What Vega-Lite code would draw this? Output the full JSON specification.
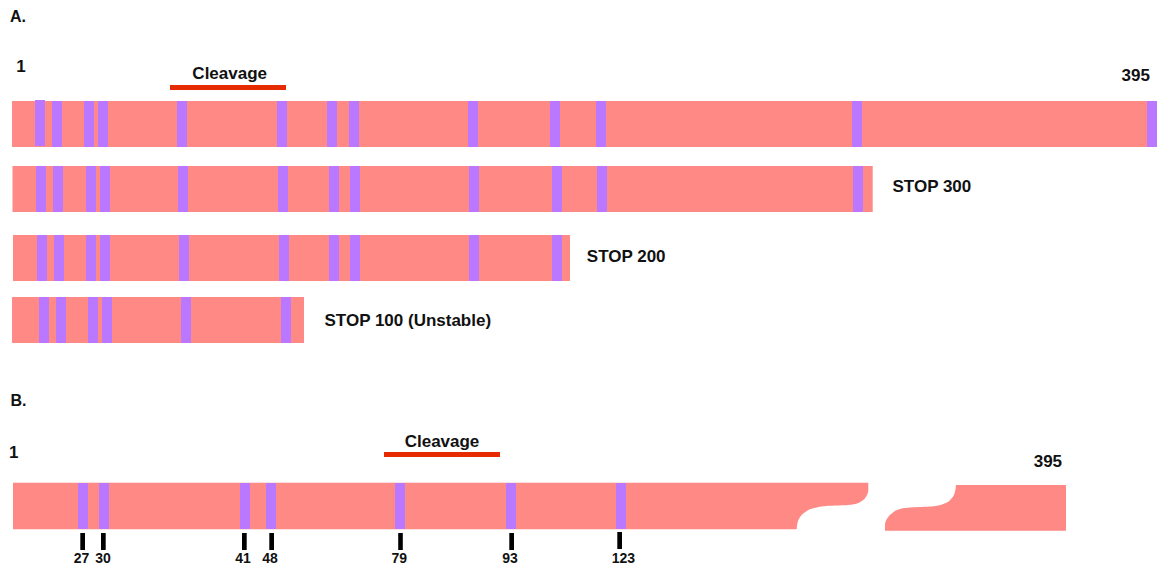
{
  "$schema": "https://vega.github.io/schema/vega-lite/v6.json",
  "width": 1160,
  "height": 567,
  "autosize": {"type": "fit", "contains": "padding"},
  "padding": 0,
  "background": "#ffffff",
  "config": {"view": {"stroke": null}, "font": "Liberation Sans"},
  "datasets": {
    "segments": [
      {"row": "A1", "kind": "bar", "x1": 12, "x2": 1157, "y1": 101, "y2": 147},
      {"row": "A2", "kind": "bar", "x1": 12.5, "x2": 872.7, "y1": 166, "y2": 212},
      {"row": "A3", "kind": "bar", "x1": 13, "x2": 570, "y1": 235, "y2": 281},
      {"row": "A4", "kind": "bar", "x1": 12, "x2": 304, "y1": 297, "y2": 343},

      {"row": "A1", "kind": "band", "x1": 35, "x2": 45, "y1": 100, "y2": 146},
      {"row": "A1", "kind": "band", "x1": 52, "x2": 62, "y1": 101, "y2": 147},
      {"row": "A1", "kind": "band", "x1": 84, "x2": 94, "y1": 101, "y2": 147},
      {"row": "A1", "kind": "band", "x1": 98, "x2": 108, "y1": 101, "y2": 147},
      {"row": "A1", "kind": "band", "x1": 177, "x2": 187, "y1": 101, "y2": 147},
      {"row": "A1", "kind": "band", "x1": 277, "x2": 287, "y1": 101, "y2": 147},
      {"row": "A1", "kind": "band", "x1": 327, "x2": 337, "y1": 101, "y2": 147},
      {"row": "A1", "kind": "band", "x1": 349, "x2": 359, "y1": 101, "y2": 147},
      {"row": "A1", "kind": "band", "x1": 468, "x2": 478, "y1": 101, "y2": 147},
      {"row": "A1", "kind": "band", "x1": 550, "x2": 560, "y1": 101, "y2": 147},
      {"row": "A1", "kind": "band", "x1": 596, "x2": 606, "y1": 101, "y2": 147},
      {"row": "A1", "kind": "band", "x1": 852, "x2": 862, "y1": 101, "y2": 147},
      {"row": "A1", "kind": "band", "x1": 1147, "x2": 1157, "y1": 101, "y2": 147},

      {"row": "A2", "kind": "band", "x1": 36, "x2": 46, "y1": 166, "y2": 212},
      {"row": "A2", "kind": "band", "x1": 53, "x2": 63, "y1": 166, "y2": 212},
      {"row": "A2", "kind": "band", "x1": 86, "x2": 96, "y1": 166, "y2": 212},
      {"row": "A2", "kind": "band", "x1": 100, "x2": 110, "y1": 166, "y2": 212},
      {"row": "A2", "kind": "band", "x1": 178, "x2": 188, "y1": 166, "y2": 212},
      {"row": "A2", "kind": "band", "x1": 278, "x2": 288, "y1": 166, "y2": 212},
      {"row": "A2", "kind": "band", "x1": 329, "x2": 339, "y1": 166, "y2": 212},
      {"row": "A2", "kind": "band", "x1": 350, "x2": 360, "y1": 166, "y2": 212},
      {"row": "A2", "kind": "band", "x1": 469, "x2": 479, "y1": 166, "y2": 212},
      {"row": "A2", "kind": "band", "x1": 552, "x2": 562, "y1": 166, "y2": 212},
      {"row": "A2", "kind": "band", "x1": 597, "x2": 607, "y1": 166, "y2": 212},
      {"row": "A2", "kind": "band", "x1": 853, "x2": 863, "y1": 166, "y2": 212},

      {"row": "A3", "kind": "band", "x1": 37, "x2": 47, "y1": 235, "y2": 281},
      {"row": "A3", "kind": "band", "x1": 54, "x2": 64, "y1": 235, "y2": 281},
      {"row": "A3", "kind": "band", "x1": 86, "x2": 96, "y1": 235, "y2": 281},
      {"row": "A3", "kind": "band", "x1": 100, "x2": 110, "y1": 235, "y2": 281},
      {"row": "A3", "kind": "band", "x1": 179, "x2": 189, "y1": 235, "y2": 281},
      {"row": "A3", "kind": "band", "x1": 279, "x2": 289, "y1": 235, "y2": 281},
      {"row": "A3", "kind": "band", "x1": 329, "x2": 339, "y1": 235, "y2": 281},
      {"row": "A3", "kind": "band", "x1": 350, "x2": 360, "y1": 235, "y2": 281},
      {"row": "A3", "kind": "band", "x1": 469, "x2": 479, "y1": 235, "y2": 281},
      {"row": "A3", "kind": "band", "x1": 552, "x2": 562, "y1": 235, "y2": 281},

      {"row": "A4", "kind": "band", "x1": 39, "x2": 49, "y1": 297, "y2": 343},
      {"row": "A4", "kind": "band", "x1": 56, "x2": 66, "y1": 297, "y2": 343},
      {"row": "A4", "kind": "band", "x1": 88, "x2": 98, "y1": 297, "y2": 343},
      {"row": "A4", "kind": "band", "x1": 102, "x2": 112, "y1": 297, "y2": 343},
      {"row": "A4", "kind": "band", "x1": 181, "x2": 191, "y1": 297, "y2": 343},
      {"row": "A4", "kind": "band", "x1": 281, "x2": 291, "y1": 297, "y2": 343},

      {"row": "B", "kind": "band", "x1": 78, "x2": 88, "y1": 483, "y2": 529},
      {"row": "B", "kind": "band", "x1": 99, "x2": 109, "y1": 483, "y2": 529},
      {"row": "B", "kind": "band", "x1": 240, "x2": 250, "y1": 483, "y2": 529},
      {"row": "B", "kind": "band", "x1": 266, "x2": 276, "y1": 483, "y2": 529},
      {"row": "B", "kind": "band", "x1": 395, "x2": 405, "y1": 483, "y2": 529},
      {"row": "B", "kind": "band", "x1": 506, "x2": 516, "y1": 483, "y2": 529},
      {"row": "B", "kind": "band", "x1": 616, "x2": 626, "y1": 483, "y2": 529},

      {"row": "B", "kind": "tick", "x1": 80.3, "x2": 85, "y1": 533, "y2": 550},
      {"row": "B", "kind": "tick", "x1": 101, "x2": 105.7, "y1": 533, "y2": 550},
      {"row": "B", "kind": "tick", "x1": 242, "x2": 246.7, "y1": 533, "y2": 550},
      {"row": "B", "kind": "tick", "x1": 269.3, "x2": 274, "y1": 533, "y2": 550},
      {"row": "B", "kind": "tick", "x1": 398.2, "x2": 402.8, "y1": 533, "y2": 550},
      {"row": "B", "kind": "tick", "x1": 509.3, "x2": 514, "y1": 533, "y2": 550},
      {"row": "B", "kind": "tick", "x1": 617.3, "x2": 622, "y1": 532, "y2": 549},

      {"row": "A", "kind": "cleavage", "x1": 170, "x2": 286, "y1": 85, "y2": 90},
      {"row": "B", "kind": "cleavage", "x1": 384, "x2": 500, "y1": 452, "y2": 457}
    ],
    "pieces": [
      {"piece": "left", "y": 482.7, "xa": 13, "xb": 868.3},
      {"piece": "left", "y": 490, "xa": 13, "xb": 868.3},
      {"piece": "left", "y": 496.7, "xa": 13, "xb": 866},
      {"piece": "left", "y": 501, "xa": 13, "xb": 861.7},
      {"piece": "left", "y": 504, "xa": 13, "xb": 855},
      {"piece": "left", "y": 505.3, "xa": 13, "xb": 843.3},
      {"piece": "left", "y": 506, "xa": 13, "xb": 826.7},
      {"piece": "left", "y": 508.3, "xa": 13, "xb": 813.3},
      {"piece": "left", "y": 512.3, "xa": 13, "xb": 805},
      {"piece": "left", "y": 518.3, "xa": 13, "xb": 799.3},
      {"piece": "left", "y": 524, "xa": 13, "xb": 797.3},
      {"piece": "left", "y": 529.3, "xa": 13, "xb": 796.7},
      {"piece": "right", "y": 485, "xa": 956, "xb": 1066},
      {"piece": "right", "y": 491.7, "xa": 955, "xb": 1066},
      {"piece": "right", "y": 498.3, "xa": 951.7, "xb": 1066},
      {"piece": "right", "y": 503.3, "xa": 945, "xb": 1066},
      {"piece": "right", "y": 506.3, "xa": 933.3, "xb": 1066},
      {"piece": "right", "y": 507.3, "xa": 913.3, "xb": 1066},
      {"piece": "right", "y": 509, "xa": 900, "xb": 1066},
      {"piece": "right", "y": 512.7, "xa": 892.7, "xb": 1066},
      {"piece": "right", "y": 518.3, "xa": 887.3, "xb": 1066},
      {"piece": "right", "y": 525, "xa": 885, "xb": 1066},
      {"piece": "right", "y": 530.7, "xa": 885, "xb": 1066}
    ],
    "bigCentered": [
      {"label": "1", "x": 21, "y": 72},
      {"label": "Cleavage", "x": 229.7, "y": 79},
      {"label": "395", "x": 1135.8, "y": 80.7},
      {"label": "1", "x": 13.8, "y": 458.3},
      {"label": "Cleavage", "x": 442, "y": 447},
      {"label": "395", "x": 1047.9, "y": 467.3}
    ],
    "stops": [
      {"label": "STOP 300", "x": 892.5, "y": 192},
      {"label": "STOP 200", "x": 586.8, "y": 261.7},
      {"label": "STOP 100 (Unstable)", "x": 324.5, "y": 325.7}
    ],
    "panels": [
      {"label": "A.", "x": 10, "y": 22},
      {"label": "B.", "x": 10.5, "y": 406}
    ],
    "residues": [
      {"label": "27", "x": 81.5, "y": 562.5},
      {"label": "30", "x": 103, "y": 562.5},
      {"label": "41", "x": 243, "y": 562.5},
      {"label": "48", "x": 270, "y": 562.5},
      {"label": "79", "x": 399.2, "y": 562.5},
      {"label": "93", "x": 510, "y": 562.5},
      {"label": "123", "x": 623.3, "y": 562.5}
    ]
  },
  "layer": [
    {
      "data": {"name": "pieces"},
      "mark": {"type": "area", "orient": "horizontal", "color": "#FF8985", "interpolate": "monotone"},
      "encoding": {
        "y": {"field": "y", "type": "quantitative", "scale": {"domain": [0, 567], "reverse": true, "nice": false, "zero": false}, "axis": null, "sort": null},
        "x": {"field": "xa", "type": "quantitative", "scale": {"domain": [0, 1160], "nice": false, "zero": false}, "axis": null},
        "x2": {"field": "xb"},
        "detail": {"field": "piece", "type": "nominal"}
      }
    },
    {
      "data": {"name": "segments"},
      "mark": {"type": "rect"},
      "encoding": {
        "x": {"field": "x1", "type": "quantitative", "scale": {"domain": [0, 1160], "nice": false, "zero": false}, "axis": null},
        "x2": {"field": "x2"},
        "y": {"field": "y1", "type": "quantitative", "scale": {"domain": [0, 567], "reverse": true, "nice": false, "zero": false}, "axis": null},
        "y2": {"field": "y2"},
        "color": {"field": "kind", "type": "nominal", "scale": {"domain": ["bar", "band", "tick", "cleavage"], "range": ["#FF8985", "#B978FF", "#000000", "#E62B00"]}, "legend": null}
      }
    },
    {
      "data": {"name": "bigCentered"},
      "mark": {"type": "text", "font": "Liberation Sans", "fontWeight": "bold", "fontSize": 17, "align": "center", "baseline": "alphabetic", "color": "#111111"},
      "encoding": {
        "x": {"field": "x", "type": "quantitative", "axis": null},
        "y": {"field": "y", "type": "quantitative", "axis": null},
        "text": {"field": "label"}
      }
    },
    {
      "data": {"name": "stops"},
      "mark": {"type": "text", "font": "Liberation Sans", "fontWeight": "bold", "fontSize": 17, "align": "left", "baseline": "alphabetic", "color": "#111111"},
      "encoding": {
        "x": {"field": "x", "type": "quantitative", "axis": null},
        "y": {"field": "y", "type": "quantitative", "axis": null},
        "text": {"field": "label"}
      }
    },
    {
      "data": {"name": "panels"},
      "mark": {"type": "text", "font": "Liberation Sans", "fontWeight": "bold", "fontSize": 16, "align": "left", "baseline": "alphabetic", "color": "#111111"},
      "encoding": {
        "x": {"field": "x", "type": "quantitative", "axis": null},
        "y": {"field": "y", "type": "quantitative", "axis": null},
        "text": {"field": "label"}
      }
    },
    {
      "data": {"name": "residues"},
      "mark": {"type": "text", "font": "Liberation Sans", "fontWeight": "bold", "fontSize": 14, "align": "center", "baseline": "alphabetic", "color": "#111111"},
      "encoding": {
        "x": {"field": "x", "type": "quantitative", "axis": null},
        "y": {"field": "y", "type": "quantitative", "axis": null},
        "text": {"field": "label"}
      }
    }
  ]
}
